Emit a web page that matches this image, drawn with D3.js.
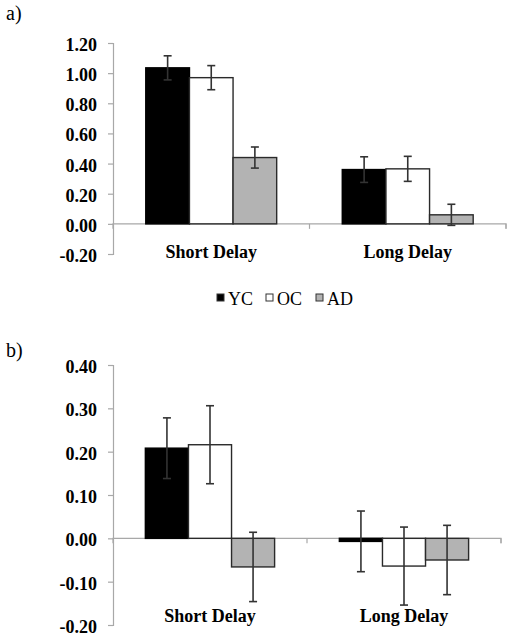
<!DOCTYPE html>
<html>
<head>
<meta charset="utf-8">
<script src="https://cdn.jsdelivr.net/npm/d3@7"></script>
<style>
  html, body { margin: 0; padding: 0; background: #fff; }
  svg { display: block; }
</style>
</head>
<body>
<script>
// ---- Data ----
const categories = ["Short Delay", "Long Delay"];
const groups = ["YC", "OC", "AD"];

// Panel a)
const aYC = [1.035, 0.36];
const aOC = [0.97, 0.365];
const aAD = [0.44, 0.06];
const aErrYC = [0.08, 0.085];
const aErrOC = [0.08, 0.083];
const aErrAD = [0.07, 0.07];
const aTicks = [-0.20, 0.00, 0.20, 0.40, 0.60, 0.80, 1.00, 1.20];

// Panel b)
const bYC = [0.208, -0.007];
const bOC = [0.216, -0.064];
const bAD = [-0.066, -0.05];
const bErrYC = [0.07, 0.07];
const bErrOC = [0.09, 0.09];
const bErrAD = [0.08, 0.08];
const bTicks = [-0.20, -0.10, 0.00, 0.10, 0.20, 0.30, 0.40];

const fills = { YC: "#000000", OC: "#ffffff", AD: "#b3b3b3" };

const W = 512, H = 639;
const svg = d3.select("body").append("svg").attr("width", W).attr("height", H);
const serif = "'Liberation Serif', 'Times New Roman', serif";
const fmt = d => d3.format(".2f")(d).replace("\u2212", "-");

function panel(opts) {
  const { values, errors, ticks, x0, x1, yTop, yBot, labelY } = opts;
  const y = d3.scaleLinear().domain([ticks[0], ticks[ticks.length - 1]]).range([yBot, yTop]);
  const x = d3.scaleBand().domain(categories).range([x0, x1]).padding(0);
  const xg = d3.scaleBand().domain(groups)
    .range([x.bandwidth() * 0.167, x.bandwidth() * 0.833]).padding(0);
  const g = svg.append("g");

  // y axis
  const yAxis = d3.axisLeft(y).tickValues(ticks).tickSize(5).tickPadding(11)
    .tickFormat(fmt);
  const ya = g.append("g").attr("transform", `translate(${x0},0)`).call(yAxis);
  ya.select(".domain").attr("stroke", "#a8a8a8").attr("stroke-width", 1.2);
  ya.selectAll(".tick line").attr("stroke", "#a8a8a8").attr("stroke-width", 1.2);
  ya.selectAll(".tick text")
    .attr("font-family", serif).attr("font-weight", "bold").attr("font-size", 18)
    .attr("fill", "#000").attr("dy", "0.42em");

  // zero line with category ticks
  const xa = d3.axisBottom(x).tickSize(5).tickFormat("");
  const xAx = g.append("g").attr("transform", `translate(0,${y(0)})`).call(xa);
  xAx.select(".domain").attr("stroke", "#a8a8a8").attr("stroke-width", 1.2)
    .attr("d", `M${x0},5V0H${x1}V5`);
  xAx.selectAll(".tick line").attr("stroke", "#a8a8a8").attr("stroke-width", 1.2)
    .attr("transform", d => `translate(${x.bandwidth() / 2},0)`);

  // bars
  categories.forEach((c, ci) => {
    groups.forEach((gr, gi) => {
      const v = values[gr][ci];
      const bx = x(c) + xg(gr);
      g.append("rect")
        .attr("x", bx).attr("width", xg.bandwidth())
        .attr("y", Math.min(y(v), y(0)))
        .attr("height", Math.max(Math.abs(y(v) - y(0)), 0.001))
        .attr("fill", fills[gr])
        .attr("stroke", gr === "YC" ? "#000" : "#2a2a2a")
        .attr("stroke-width", gr === "YC" ? 1.5 : 1.4);
      // error bar
      const e = errors[gr][ci];
      const cx = bx + xg.bandwidth() / 2;
      const cap = 4;
      const ep = g.append("g").attr("stroke", "#333").attr("stroke-width", 1.6);
      ep.append("line").attr("x1", cx).attr("x2", cx).attr("y1", y(v + e)).attr("y2", y(v - e));
      ep.append("line").attr("x1", cx - cap).attr("x2", cx + cap).attr("y1", y(v + e)).attr("y2", y(v + e));
      ep.append("line").attr("x1", cx - cap).attr("x2", cx + cap).attr("y1", y(v - e)).attr("y2", y(v - e));
    });
    g.append("text")
      .attr("x", x(c) + x.bandwidth() / 2).attr("y", labelY)
      .attr("text-anchor", "middle")
      .attr("font-family", serif).attr("font-weight", "bold").attr("font-size", 18)
      .text(c);
  });
}

panel({
  values: { YC: aYC, OC: aOC, AD: aAD },
  errors: { YC: aErrYC, OC: aErrOC, AD: aErrAD },
  ticks: aTicks, x0: 113, x1: 506, yTop: 43, yBot: 254, labelY: 258
});
panel({
  values: { YC: bYC, OC: bOC, AD: bAD },
  errors: { YC: bErrYC, OC: bErrOC, AD: bErrAD },
  ticks: bTicks, x0: 113, x1: 501, yTop: 365, yBot: 625, labelY: 622
});

// panel letters
svg.append("text").attr("x", 6).attr("y", 20)
  .attr("font-family", serif).attr("font-size", 20).text("a)");
svg.append("text").attr("x", 6).attr("y", 357)
  .attr("font-family", serif).attr("font-size", 20).text("b)");

// legend
const leg = svg.append("g");
const legX = [217, 266, 316];
groups.forEach((gr, i) => {
  leg.append("rect").attr("x", legX[i]).attr("y", 294).attr("width", 7).attr("height", 7)
    .attr("fill", fills[gr]).attr("stroke", "#333").attr("stroke-width", 1);
  leg.append("text").attr("x", legX[i] + 11).attr("y", 305)
    .attr("font-family", serif).attr("font-size", 18).text(gr);
});
</script>
</body>
</html>
